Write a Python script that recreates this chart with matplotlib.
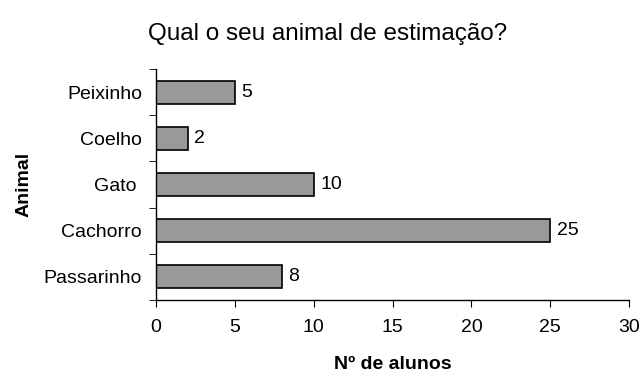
import matplotlib
matplotlib.use("Agg")
import matplotlib.pyplot as plt
import numpy as np

plt.rcParams['font.family'] = ['Liberation Sans', 'DejaVu Sans']

animais = ["Passarinho", "Cachorro", "Gato ", "Coelho", "Peixinho"]
alunos = [8, 25, 10, 2, 5]
x_ticks = [0, 5, 10, 15, 20, 25, 30]

fig = plt.figure(figsize=(6.42, 3.73), dpi=100)
ax = fig.add_axes([0.243, 0.196, 0.737, 0.619])

pos = np.arange(len(animais))
ax.barh(pos, alunos, height=0.5, color="#999999", edgecolor="black", linewidth=1.2)
for p, v in zip(pos, alunos):
    ax.text(v + 0.4, p, str(v), va="center", ha="left", fontsize=14)

ax.set_xlim(0, 30)
ax.set_ylim(-0.5, len(animais) - 0.5)
ax.set_xticks(x_ticks)
ax.set_xticklabels([str(t) for t in x_ticks], fontsize=14)
ax.set_yticks(pos)
ax.set_yticklabels(animais, fontsize=14)
ax.tick_params(axis="y", which="major", length=0, pad=10)
ax.set_yticks(np.arange(-0.5, len(animais)), minor=True)
ax.tick_params(axis="y", which="minor", length=5, direction="out")
ax.tick_params(axis="x", length=5, direction="out", pad=9)

for s in ["top", "right"]:
    ax.spines[s].set_visible(False)
ax.spines["left"].set_linewidth(1)
ax.spines["bottom"].set_linewidth(1)

ax.set_xlabel("Nº de alunos", fontsize=14, fontweight="bold", labelpad=14)
ax.set_ylabel("Animal", fontsize=14, fontweight="bold", labelpad=8)
fig.text(0.51, 0.91, "Qual o seu animal de estimação?", ha="center", va="center", fontsize=17.5)

fig.savefig("out.png", dpi=100)
